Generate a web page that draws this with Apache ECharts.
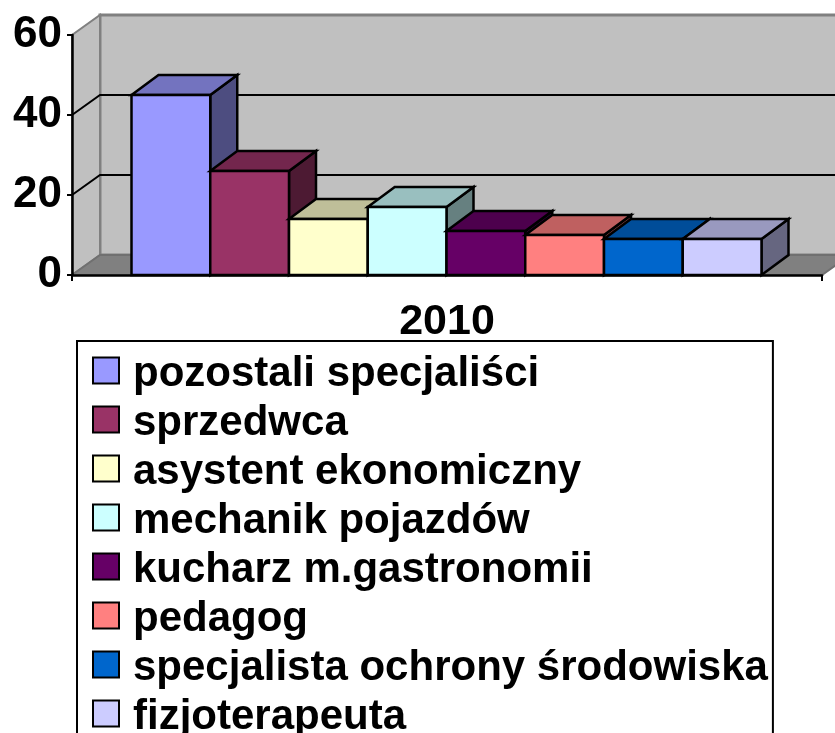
<!DOCTYPE html>
<html><head><meta charset="utf-8">
<style>html,body{margin:0;padding:0;background:#fff;overflow:hidden}#c{width:835px;height:733px}</style>
<script src="https://cdn.jsdelivr.net/npm/echarts@6/dist/echarts.min.js"></script>
</head><body><div id="c"></div>
<script>
const categories = ['2010'];
const names = ['pozostali specjaliści','sprzedwca','asystent ekonomiczny','mechanik pojazdów','kucharz m.gastronomii','pedagog','specjalista ochrony środowiska','fizjoterapeuta'];
const values = [45,26,14,17,11,10,9,9];
const colors = ['#9999ff','#993366','#ffffcc','#ccffff','#660066','#ff8080','#0066cc','#ccccff'];
const yTicks = [0,20,40,60];
const DX = 27, DY = 20, FONT = 'Liberation Sans';

function shade(hex, f){
  const n = parseInt(hex.slice(1),16);
  return 'rgb('+[(n>>16)&255,(n>>8)&255,n&255].map(c=>Math.round(c*f)).join(',')+')';
}
function poly(points, fill, stroke, w){
  return {type:'polygon',shape:{points},style:{fill,stroke,lineWidth:w,lineJoin:'miter'}};
}
function renderWalls(params, api){
  const cs = params.coordSys, L = cs.x, R = cs.x+cs.width;
  const y0 = api.coord([0,0])[1], yT = api.coord([0,60])[1];
  const kids = [
    poly([[L+DX+1,yT-DY],[R+DX+1,yT-DY],[R+DX+1,y0-DY],[L+DX+1,y0-DY]],'#c0c0c0','#808080',3),
    poly([[L,yT],[L+DX+1,yT-DY],[L+DX+1,y0-DY],[L,y0]],'#c0c0c0','#808080',2),
    poly([[L,y0],[L+DX+1,y0-DY],[R+DX+1,y0-DY],[R,y0]],'#808080','#707070',2)
  ];
  yTicks.slice(1,3).forEach(t=>{
    const y = api.coord([0,t])[1];
    kids.push({type:'polyline',shape:{points:[[L,y],[L+DX+1,y-DY],[R+DX+1,y-DY]]},style:{fill:'none',stroke:'#000',lineWidth:2}});
  });
  return {type:'group',children:kids};
}
function renderBar(i){
  return function(params, api){
    const c0 = api.coord([0,0]), c1 = api.coord([0,api.value(1)]);
    const band = api.size([1,0])[0], w = band*0.84/names.length;
    const x0 = c0[0]-band*0.42+i*w-0.5, x1 = x0+w, yb = c0[1], yt = c1[1];
    const col = colors[i];
    return {type:'group',children:[
      poly([[x1,yb],[x1+DX,yb-DY],[x1+DX,yt-DY],[x1,yt]],shade(col,0.5),'#000',2.5),
      poly([[x0,yt],[x0+DX,yt-DY],[x1+DX,yt-DY],[x1,yt]],shade(col,0.75),'#000',2.5),
      poly([[x0,yt],[x1,yt],[x1,yb],[x0,yb]],col,'#000',2.5)
    ]};
  };
}
const series = [{type:'custom',name:'walls',silent:true,renderItem:renderWalls,data:[[0,60]],clip:false,z:1}];
names.forEach((n,i)=>series.push({
  type:'custom',name:n,silent:true,clip:false,z:2,renderItem:renderBar(i),
  data:[[0,values[i]]],encode:{x:0,y:1},
  itemStyle:{color:colors[i],borderColor:'#000',borderWidth:2}
}));
const chart = echarts.init(document.getElementById('c'),null,{renderer:'canvas'});
chart.setOption({
  animation:false,backgroundColor:'#fff',
  grid:{left:72,top:35,width:750,height:240,containLabel:false},
  xAxis:{type:'category',data:categories,z:5,
    axisLine:{show:true,lineStyle:{color:'#000',width:2.5}},
    axisTick:{show:true,length:6,lineStyle:{color:'#000',width:2},alignWithLabel:false},
    axisLabel:{fontFamily:FONT,fontWeight:'bold',fontSize:43,color:'#000',margin:26}},
  yAxis:{type:'value',min:0,max:60,interval:20,z:5,
    axisLine:{show:true,lineStyle:{color:'#000',width:2.5}},
    axisTick:{show:true,length:5,lineStyle:{color:'#000',width:2}},
    splitLine:{show:false},
    axisLabel:{fontFamily:FONT,fontWeight:'bold',fontSize:44,color:'#000',margin:10}},
  legend:{show:true,orient:'vertical',left:77,top:341,height:500,width:680,padding:[6.5,5,10,15],
    data:names,icon:'rect',itemWidth:26,itemHeight:26,itemGap:1,
    borderColor:'#000',borderWidth:2,backgroundColor:'#fff',selectedMode:false,
    formatter:n=>'{s| }{a|'+n+'}',
    textStyle:{fontFamily:FONT,fontWeight:'bold',fontSize:42,color:'#000',padding:[0,0,0,9],
      rich:{
        s:{fontSize:1,lineHeight:46,height:46,width:0},
        a:{fontFamily:FONT,fontWeight:'bold',fontSize:42,color:'#000',lineHeight:38,height:38,verticalAlign:'bottom'}
      }}},
  series
});
</script></body></html>
